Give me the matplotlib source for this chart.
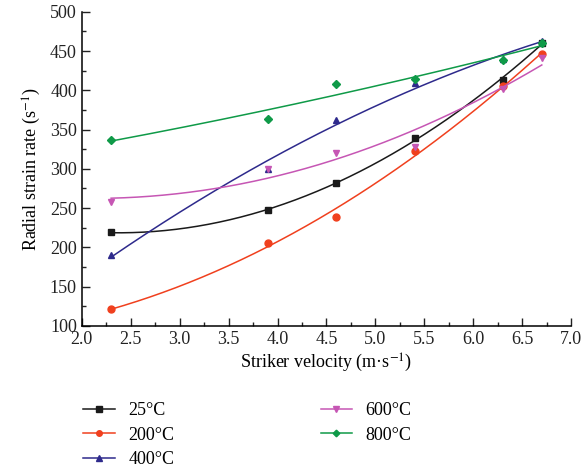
import matplotlib

matplotlib.use("Agg")
import matplotlib.pyplot as plt
import numpy as np
from matplotlib.ticker import MultipleLocator

plt.rcParams["font.family"] = ["Liberation Serif", "DejaVu Serif"]
plt.rcParams["mathtext.fontset"] = "stix"

velocity = [2.3, 3.9, 4.6, 5.4, 6.3, 6.7]

rate_25 = [219, 247, 282, 339, 413, 460]
rate_200 = [121, 206, 239, 323, 405, 446]
rate_400 = [190, 300, 362, 409, 440, 463]
rate_600 = [258, 300, 320, 328, 402, 441]
rate_800 = [337, 364, 408, 415, 439, 460]

series = [
    ("25°C", rate_25, "#1a1a1a", "s"),
    ("200°C", rate_200, "#f0401e", "o"),
    ("400°C", rate_400, "#2e2a8c", "^"),
    ("600°C", rate_600, "#c656b4", "v"),
    ("800°C", rate_800, "#0f9a48", "D"),
]

fig = plt.figure(figsize=(5.84, 4.73), dpi=100)
ax = fig.add_axes([0.140, 0.311, 0.838, 0.664])

x = np.array(velocity)
xs = np.linspace(x.min(), x.max(), 200)
for label, y, color, marker in series:
    # quadratic trend through the measured points
    coef = np.polyfit(x, y, 2)
    ax.plot(xs, np.polyval(coef, xs), color=color, lw=1.1)
    ms = 4.2 if marker == "D" else 5.0
    ax.plot(x, y, linestyle="none", marker=marker, color=color, ms=ms)
    ax.plot([], [], color=color, marker=marker, ms=ms * 0.8, lw=1.1, label=label)

ax.set_xlim(2.0, 7.0)
ax.set_ylim(100, 500)
ax.xaxis.set_major_locator(MultipleLocator(0.5))
ax.xaxis.set_minor_locator(MultipleLocator(0.25))
ax.yaxis.set_major_locator(MultipleLocator(50))
ax.yaxis.set_minor_locator(MultipleLocator(25))
ax.xaxis.set_major_formatter(lambda v, p: f"{v:.1f}")
ax.tick_params(which="both", direction="in", labelsize=13, width=1, colors="#222222")
ax.tick_params(which="major", length=6)
ax.tick_params(which="minor", length=3)
ax.spines["top"].set_visible(False)
ax.spines["right"].set_visible(False)
for s in ("left", "bottom"):
    ax.spines[s].set_linewidth(1.1)

ax.set_xlabel(r"Striker velocity (m·s$^{-1}$)", fontsize=13, labelpad=3)
ax.set_ylabel(r"Radial strain rate (s$^{-1}$)", fontsize=13, labelpad=5)

fig.legend(
    loc="upper left",
    bbox_to_anchor=(0.130, 0.165),
    ncol=2,
    frameon=False,
    fontsize=13,
    handlelength=1.75,
    handletextpad=0.75,
    columnspacing=8.1,
    labelspacing=0.42,
    borderaxespad=0,
)

fig.savefig("out.png", dpi=100)
